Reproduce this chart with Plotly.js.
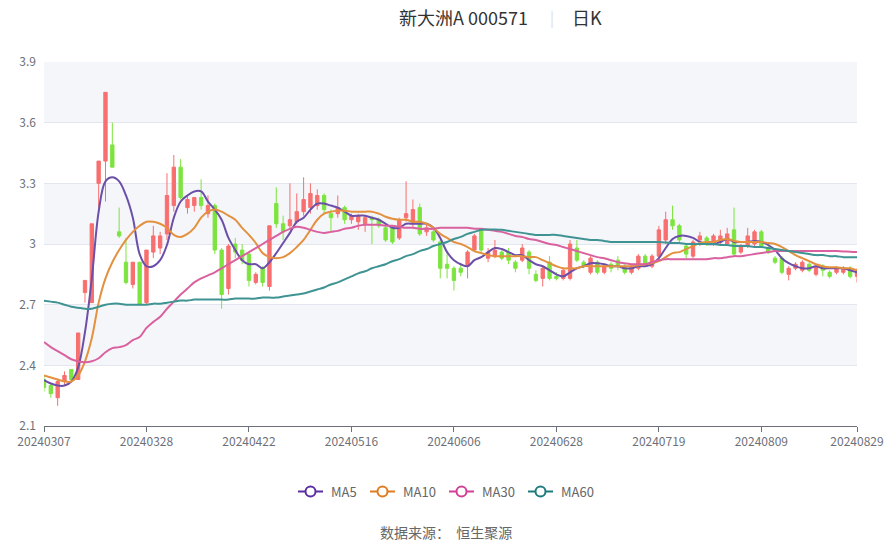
<!DOCTYPE html>
<html>
<head>
<meta charset="utf-8">
<script src="https://cdn.plot.ly/plotly-3.0.1.min.js"></script>
<style>html,body{margin:0;padding:0;background:#fff;}#chart{width:893px;height:542px;}</style>
</head>
<body>
<div id="chart"></div>
<script>
const dates = [
'20240307','20240308','20240311','20240312','20240313','20240314','20240315','20240318','20240319','20240320','20240321','20240322','20240325','20240326','20240327','20240328','20240329',
'20240401','20240402','20240403','20240408','20240409','20240410','20240411','20240412','20240415','20240416','20240417','20240418','20240419','20240422','20240423','20240424','20240425','20240426','20240429','20240430',
'20240506','20240507','20240508','20240509','20240510','20240513','20240514','20240515','20240516','20240517','20240520','20240521','20240522','20240523','20240524','20240527','20240528','20240529','20240530','20240531',
'20240603','20240604','20240605','20240606','20240607','20240611','20240612','20240613','20240614','20240617','20240618','20240619','20240620','20240621','20240624','20240625','20240626','20240627','20240628',
'20240701','20240702','20240703','20240704','20240705','20240708','20240709','20240710','20240711','20240712','20240715','20240716','20240717','20240718','20240719','20240722','20240723','20240724','20240725','20240726','20240729','20240730','20240731',
'20240801','20240802','20240805','20240806','20240807','20240808','20240809','20240812','20240813','20240814','20240815','20240816','20240819','20240820','20240821','20240822','20240823','20240826','20240827','20240828','20240829'
];
const tickDates = ['20240307','20240328','20240422','20240516','20240606','20240628','20240719','20240809','20240829'];

const openP = [2.33,2.30,2.24,2.32,2.38,2.33,2.76,2.71,3.30,3.41, 3.49,3.06,2.91,2.80,2.91,2.71,2.96,2.98,3.05,3.19,
3.38,3.18,3.19,3.23,3.15,3.19,2.97,2.78,3.00,2.97, 2.95,2.81,2.88,2.79,3.20,3.10,3.09,3.11,3.16,3.18,
3.19,3.24,3.15,3.15,3.18,3.12,3.11,3.10,3.13,3.12, 3.08,3.08,3.03,3.13,3.10,3.18,3.06,3.06,3.01,2.90,
2.88,2.88,2.89,2.97,3.07,2.93,2.94,2.96,2.96,2.91, 2.92,2.96,2.85,2.83,2.91,2.84,2.83,2.83,2.98,2.91,
2.86,2.91,2.86,2.90,2.92,2.89,2.86,2.88,2.94,2.89, 2.94,3.02,3.12,3.09,2.99,2.94,3.02,3.03,3.00,3.01,
3.00,3.07,2.96,2.99,3.00,3.06,2.98,2.93,2.93,2.85, 2.88,2.87,2.90,2.85,2.89,2.86,2.86,2.86,2.88,2.84];
const highP = [2.35,2.31,2.33,2.37,2.38,2.56,2.82,3.10,3.41,3.75, 3.60,3.18,3.03,2.91,2.91,2.97,3.09,3.06,3.35,3.44,
3.42,3.24,3.23,3.32,3.24,3.20,2.98,3.00,3.03,3.00, 2.96,2.86,2.89,3.09,3.28,3.14,3.30,3.25,3.33,3.30,
3.27,3.25,3.17,3.24,3.19,3.15,3.15,3.14,3.14,3.13, 3.09,3.09,3.13,3.31,3.22,3.20,3.10,3.07,3.02,2.95,
2.89,2.90,2.97,3.05,3.07,2.98,3.02,2.97,2.98,2.92, 3.00,2.97,2.87,2.89,2.94,2.86,2.88,3.02,3.02,2.92,
2.94,2.92,2.90,2.91,2.94,2.90,2.90,2.95,2.95,2.95, 3.09,3.16,3.19,3.10,3.00,3.02,3.06,3.04,3.05,3.07,
3.08,3.18,3.00,3.08,3.07,3.07,3.00,2.94,2.94,2.89, 2.91,2.92,2.91,2.90,2.90,2.87,2.89,2.89,2.89,2.88];
const lowP = [2.27,2.24,2.20,2.30,2.32,2.33,2.71,2.71,3.18,3.21, 3.38,3.03,2.80,2.78,2.70,2.70,2.93,2.95,3.02,3.16,
3.22,3.15,3.16,3.17,3.13,2.95,2.68,2.75,2.93,2.90, 2.79,2.80,2.79,2.77,3.08,3.02,3.07,3.10,3.14,3.15,
3.17,3.15,3.06,3.13,3.10,3.10,3.07,3.06,3.00,3.08, 3.01,3.00,3.02,3.11,3.08,3.04,3.04,3.01,2.83,2.83,
2.77,2.84,2.83,2.96,2.95,2.91,2.93,2.92,2.90,2.86, 2.91,2.85,2.81,2.79,2.82,2.82,2.82,2.82,2.91,2.88,
2.85,2.85,2.85,2.86,2.87,2.85,2.85,2.87,2.89,2.88, 2.93,3.00,3.07,3.00,2.93,2.93,2.99,2.99,2.99,3.00,
2.99,2.94,2.95,2.98,2.99,2.98,2.95,2.90,2.85,2.82, 2.87,2.86,2.86,2.84,2.84,2.83,2.85,2.85,2.83,2.81];
const closeP = [2.29,2.26,2.32,2.35,2.33,2.56,2.82,3.10,3.41,3.75, 3.38,3.04,2.81,2.91,2.70,2.97,3.04,3.04,3.24,3.38,
3.23,3.22,3.23,3.19,3.19,2.97,2.75,2.99,2.96,2.92, 2.82,2.85,2.81,3.09,3.10,3.06,3.12,3.16,3.22,3.25,
3.24,3.17,3.13,3.18,3.12,3.14,3.14,3.13,3.12,3.09, 3.02,3.01,3.12,3.15,3.17,3.05,3.08,3.02,2.88,2.88,
2.82,2.86,2.96,3.04,2.97,2.96,2.97,2.93,2.92,2.88, 2.98,2.88,2.82,2.88,2.83,2.83,2.87,3.00,2.92,2.89,
2.93,2.86,2.89,2.88,2.89,2.86,2.89,2.94,2.90,2.94, 3.07,3.12,3.09,3.02,2.95,3.01,3.04,3.00,3.04,3.04,
3.05,2.95,2.99,3.04,3.06,2.99,2.96,2.91,2.86,2.88, 2.90,2.91,2.87,2.89,2.87,2.84,2.88,2.88,2.84,2.87];

const ma5 = [2.327,2.31,2.30,2.30,2.32,2.39,2.565,2.83,3.16,3.31, 3.33,3.31,3.24,3.13,2.95,2.89,2.89,2.92,2.995,3.13,
3.21,3.24,3.26,3.26,3.21,3.17,3.12,3.03,2.97,2.92, 2.90,2.90,2.88,2.91,2.955,3.005,3.055,3.11,3.13,3.17,
3.20,3.20,3.19,3.18,3.16,3.14,3.14,3.14,3.13,3.12, 3.10,3.08,3.08,3.10,3.10,3.10,3.10,3.08,3.03,2.96,
2.92,2.90,2.89,2.92,2.935,2.96,2.98,2.975,2.96,2.945, 2.945,2.92,2.90,2.89,2.87,2.85,2.84,2.86,2.88,2.89,
2.905,2.905,2.90,2.89,2.89,2.88,2.88,2.89,2.89,2.90, 2.93,2.98,3.025,3.04,3.04,3.03,3.01,3.00,3.00,3.01,
3.025,3.01,3.01,3.01,3.015,3.01,2.995,2.97,2.93,2.905, 2.89,2.88,2.88,2.89,2.88,2.88,2.88,2.88,2.87,2.86];
const ma10 = [2.35,2.34,2.33,2.32,2.32,2.35,2.42,2.535,2.71,2.83, 2.91,2.97,3.02,3.06,3.09,3.11,3.11,3.10,3.08,3.045,
3.035,3.05,3.08,3.13,3.16,3.17,3.16,3.14,3.12,3.08, 3.045,3.005,2.955,2.935,2.93,2.935,2.955,2.985,3.02,3.07,
3.12,3.15,3.16,3.165,3.165,3.16,3.16,3.16,3.16,3.15, 3.135,3.125,3.12,3.12,3.11,3.11,3.10,3.08,3.05,3.03,
3.01,3.00,2.985,2.965,2.955,2.945,2.94,2.94,2.94,2.94, 2.94,2.935,2.935,2.92,2.905,2.89,2.88,2.88,2.88,2.89,
2.89,2.89,2.89,2.89,2.89,2.89,2.89,2.895,2.90,2.905, 2.915,2.935,2.955,2.96,2.975,2.99,3.005,3.01,3.01,3.02,
3.025,3.015,3.01,3.01,3.01,3.01,3.005,3.00,2.985,2.965, 2.945,2.93,2.915,2.90,2.89,2.885,2.885,2.88,2.88,2.87];
const ma30 = [2.515,2.49,2.47,2.45,2.43,2.42,2.415,2.42,2.435,2.465, 2.485,2.49,2.50,2.525,2.54,2.585,2.615,2.64,2.68,2.715,
2.75,2.78,2.81,2.83,2.845,2.86,2.88,2.90,2.92,2.94, 2.96,2.98,3.00,3.02,3.04,3.06,3.075,3.085,3.08,3.07,
3.06,3.055,3.06,3.065,3.075,3.08,3.09,3.095,3.095,3.095, 3.09,3.09,3.085,3.08,3.08,3.075,3.075,3.075,3.08,3.08,
3.08,3.08,3.08,3.075,3.075,3.07,3.065,3.06,3.05,3.04, 3.035,3.025,3.02,3.01,3.00,2.995,2.985,2.975,2.965,2.955,
2.945,2.935,2.93,2.92,2.91,2.905,2.90,2.90,2.90,2.91, 2.92,2.925,2.925,2.925,2.925,2.925,2.925,2.925,2.93,2.93,
2.935,2.94,2.94,2.945,2.95,2.955,2.96,2.965,2.965,2.965, 2.965,2.965,2.965,2.965,2.965,2.965,2.965,2.963,2.962,2.96];
const ma60 = [2.72,2.715,2.71,2.70,2.69,2.685,2.68,2.68,2.69,2.70, 2.705,2.705,2.70,2.70,2.70,2.70,2.705,2.705,2.71,2.715,
2.72,2.72,2.725,2.725,2.725,2.725,2.725,2.725,2.73,2.73, 2.73,2.73,2.735,2.735,2.735,2.74,2.745,2.75,2.755,2.765,
2.775,2.785,2.80,2.81,2.825,2.84,2.855,2.865,2.88,2.89, 2.90,2.915,2.925,2.94,2.95,2.965,2.975,2.99,3.00,3.01,
3.025,3.035,3.05,3.06,3.07,3.072,3.072,3.07,3.065,3.06, 3.055,3.05,3.045,3.045,3.045,3.045,3.04,3.035,3.03,3.025,
3.02,3.02,3.015,3.01,3.01,3.01,3.01,3.01,3.01,3.01, 3.01,3.008,3.005,3.005,3.0,3.0,3.0,3.0,3.0,2.995,
2.995,2.99,2.99,2.99,2.985,2.985,2.98,2.975,2.97,2.965, 2.96,2.955,2.95,2.945,2.945,2.94,2.94,2.935,2.935,2.935];

const maNames = ['MA5','MA10','MA30','MA60'];
const maColors = ['#6b4fa8','#e3913f','#d9619f','#3f9393'];
const legendColors = ['#5b2fa3','#e07b1f','#d23f95','#1f7b7d'];
const maData = [ma5, ma10, ma30, ma60];

const traces = [{
  type: 'candlestick', x: dates, open: openP, high: highP, low: lowP, close: closeP,
  increasing: {line: {color: '#f86f6f', width: 1}, fillcolor: '#f86f6f'},
  decreasing: {line: {color: '#7de43f', width: 1}, fillcolor: '#7de43f'},
  whiskerwidth: 0, showlegend: false, hoverinfo: 'skip'
}];
maData.forEach((d, k) => {
  traces.push({type: 'scatter', mode: 'lines', x: dates, y: d, showlegend: false, hoverinfo: 'skip',
    line: {color: maColors[k], width: 2, shape: 'spline', smoothing: 1}});
});

// plot-area geometry in pixels (for placing non-data decorations)
const PL = 44, PW = 813, PB = 426, PH = 364;
const px = v => (v - PL) / PW;
const py = v => (PB - v) / PH;

const yTicks = [2.1, 2.4, 2.7, 3.0, 3.3, 3.6, 3.9];
const yTickText = ['2.1','2.4','2.7','3','3.3','3.6','3.9'];
const bandColor = '#f5f6fa';
const shapes = [[2.4,2.7],[3.0,3.3],[3.6,3.9]].map(b => ({
  type: 'rect', xref: 'paper', yref: 'y', x0: 0, x1: 1, y0: b[0], y1: b[1],
  fillcolor: bandColor, line: {width: 0}, layer: 'below'
}));

// custom legend (line + open circle + label)
const legendX = [298, 370, 449, 528];
const legendY = 491.5;
const annotations = [];
maNames.forEach((n, k) => {
  const x0 = legendX[k];
  shapes.push({type: 'line', xref: 'paper', yref: 'paper', x0: px(x0), x1: px(x0 + 25),
    y0: py(legendY), y1: py(legendY), line: {color: legendColors[k], width: 2}});
  shapes.push({type: 'circle', xref: 'paper', yref: 'paper',
    xsizemode: 'pixel', ysizemode: 'pixel', xanchor: px(x0 + 12.5), yanchor: py(legendY),
    x0: -5, x1: 5, y0: -5, y1: 5, fillcolor: '#ffffff', line: {color: legendColors[k], width: 2}});
  annotations.push({xref: 'paper', yref: 'paper', x: px(x0 + 31), xanchor: 'left', y: py(legendY), yanchor: 'middle',
    text: n, showarrow: false, font: {size: 13, color: '#666'}});
});

annotations.push(
  {xref: 'paper', yref: 'paper', x: px(397), xanchor: 'left', y: py(17), yanchor: 'middle',
   text: '新大洲A 000571', showarrow: false, font: {size: 18, color: '#333'}},
  {xref: 'paper', yref: 'paper', x: px(552), xanchor: 'center', y: py(17), yanchor: 'middle',
   text: '|', showarrow: false, font: {size: 15, color: '#dddddd'}},
  {xref: 'paper', yref: 'paper', x: px(570), xanchor: 'left', y: py(17), yanchor: 'middle',
   text: '日K', showarrow: false, font: {size: 18, color: '#333'}},
  {xref: 'paper', yref: 'paper', x: px(446), xanchor: 'center', y: py(531.5), yanchor: 'middle',
   text: '数据来源：  恒生聚源', showarrow: false, font: {size: 14, color: '#666'}}
);

const layout = {
  width: 893, height: 542,
  margin: {l: 44, r: 36, t: 62, b: 116},
  paper_bgcolor: '#ffffff', plot_bgcolor: 'rgba(0,0,0,0)',
  font: {family: '"Noto Sans CJK SC", "Noto Sans", sans-serif', color: '#666'},
  xaxis: {
    type: 'category', range: [0, dates.length - 1], rangeslider: {visible: false},
    tickmode: 'array', tickvals: tickDates, ticktext: tickDates,
    showgrid: false, zeroline: false,
    showline: true, linecolor: '#6e7079', linewidth: 1,
    ticks: 'outside', ticklen: 5, tickcolor: '#6e7079',
    tickfont: {size: 12, color: '#6e7079'}, fixedrange: true
  },
  yaxis: {
    range: [2.1, 3.9], tickmode: 'array', tickvals: yTicks, ticktext: yTickText,
    showgrid: true, gridcolor: '#e3e6ee', gridwidth: 1, zeroline: false,
    showline: false, ticks: '', ticklabelstandoff: 7, tickfont: {size: 12, color: '#6e7079'}, fixedrange: true
  },
  shapes: shapes,
  showlegend: false,
  annotations: annotations
};

Plotly.newPlot('chart', traces, layout, {displayModeBar: false, staticPlot: true});
</script>
</body>
</html>
